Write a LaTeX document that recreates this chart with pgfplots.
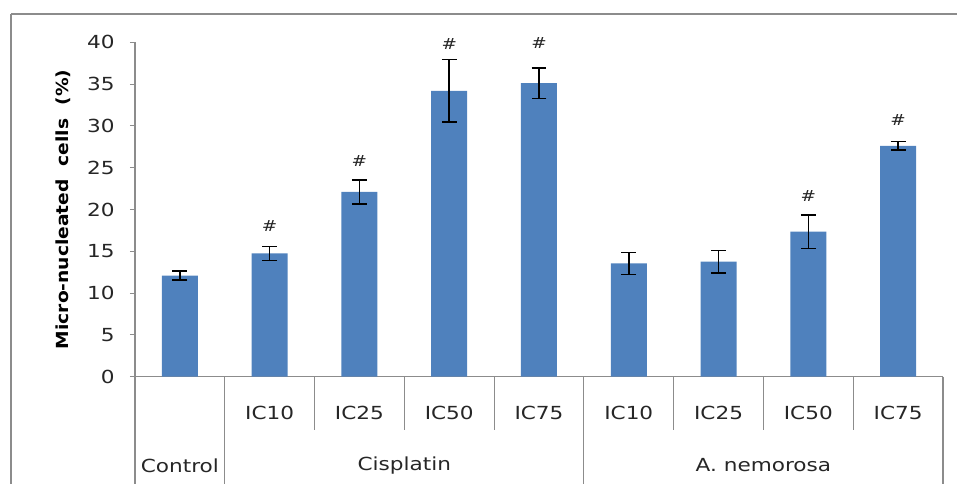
\documentclass[border=0pt]{standalone}
\usepackage{pgfplots}
\pgfplotsset{compat=1.18}
\usepackage{fontspec}
\setmainfont{DejaVu Sans}[FakeStretch=1.2]
\newfontfamily\ylabfont{DejaVu Sans}[FakeStretch=1.12]
\definecolor{barblue}{HTML}{4F81BD}
\definecolor{axgray}{HTML}{8C8C8C}
\definecolor{txt}{HTML}{262626}
\tikzset{
  lbl/.style={font=\fontsize{13.5}{15}\selectfont, text=txt},
  sig/.style={font=\fontsize{11.5}{12}\selectfont, text=txt},
  grid line/.style={axgray, line width=0.8pt},
}

\begin{document}
\begin{tikzpicture}
% outer frame of the chart area
\draw[axgray, line width=1.2pt] (8.25pt,-10.5pt) -- (745pt,-10.5pt);
\draw[axgray, line width=1.2pt] (8.25pt,-10.5pt) -- (8.25pt,-390pt);

\begin{axis}[
  at={(101.25pt,-282.5pt)}, anchor=south west,
  scale only axis, width=606pt, height=250.8pt,
  xmin=-0.5, xmax=8.5, ymin=0, ymax=40,
  axis x line*=bottom, axis y line*=left,
  x axis line style={axgray, line width=0.8pt, -},
  y axis line style={axgray, line width=0.8pt, -},
  xtick=\empty,
  ytick={0,5,...,40},
  tick align=outside, major tick length=3.8pt,
  ytick style={axgray, line width=0.8pt},
  /pgf/number format/assume math mode=true,
  yticklabel style={font=\fontsize{13.5}{15}\selectfont, text=txt, xshift=-8pt},
  ylabel={\ylabfont\bfseries Micro-nucleated\ \ cells\ \ (\%)},
  ylabel style={font=\fontsize{12.5}{14}\selectfont, text=black,
                at={(axis description cs:-0.0891,0.5)}, anchor=center},
  clip=false,
  bar width=27pt,
]
\addplot[ybar, fill=barblue, draw=none,
  error bars/.cd, y dir=both, y explicit,
  error bar style={line width=1.1pt, black},
  error mark options={rotate=90, mark size=5.6pt, line width=1.1pt, black}]
  coordinates {
    (0,12.1)  +- (0,0.55)
    (1,14.75) +- (0,0.85)
    (2,22.1)  +- (0,1.45)
    (3,34.2)  +- (0,3.75)
    (4,35.1)  +- (0,1.85)
    (5,13.55) +- (0,1.3)
    (6,13.75) +- (0,1.35)
    (7,17.35) +- (0,2.0)
    (8,27.6)  +- (0,0.5)
  };

% significance marks
\node[sig] at (axis cs:1,18.0) {\#};
\node[sig] at (axis cs:2,25.8) {\#};
\node[sig] at (axis cs:3,39.8) {\#};
\node[sig] at (axis cs:4,39.9) {\#};
\node[sig] at (axis cs:7,21.6) {\#};
\node[sig] at (axis cs:8,30.7) {\#};

% category table under the axis
\draw[grid line] (axis cs:-0.5,0) -- (axis cs:-0.5,-16);
\draw[grid line] (axis cs:0.5,0) -- (axis cs:0.5,-16);
\draw[grid line] (axis cs:4.5,0) -- (axis cs:4.5,-16);
\draw[grid line] (axis cs:8.5,0) -- (axis cs:8.5,-16);
\draw[grid line] (axis cs:1.5,0) -- (axis cs:1.5,-6.376);
\draw[grid line] (axis cs:2.5,0) -- (axis cs:2.5,-6.376);
\draw[grid line] (axis cs:3.5,0) -- (axis cs:3.5,-6.376);
\draw[grid line] (axis cs:5.5,0) -- (axis cs:5.5,-6.376);
\draw[grid line] (axis cs:6.5,0) -- (axis cs:6.5,-6.376);
\draw[grid line] (axis cs:7.5,0) -- (axis cs:7.5,-6.376);

\node[lbl] at (axis cs:1,-4.39) {IC10};
\node[lbl] at (axis cs:2,-4.39) {IC25};
\node[lbl] at (axis cs:3,-4.39) {IC50};
\node[lbl] at (axis cs:4,-4.39) {IC75};
\node[lbl] at (axis cs:5,-4.39) {IC10};
\node[lbl] at (axis cs:6,-4.39) {IC25};
\node[lbl] at (axis cs:7,-4.39) {IC50};
\node[lbl] at (axis cs:8,-4.39) {IC75};
\node[lbl] at (axis cs:0,-10.6) {Control};
\node[lbl] at (axis cs:2.5,-10.6) {Cisplatin};
\node[lbl] at (axis cs:6.5,-10.6) {A. nemorosa};
\end{axis}

\pgfresetboundingbox
\path[use as bounding box] (0pt,0pt) rectangle (717.75pt,-362.25pt);
\end{tikzpicture}
\end{document}
